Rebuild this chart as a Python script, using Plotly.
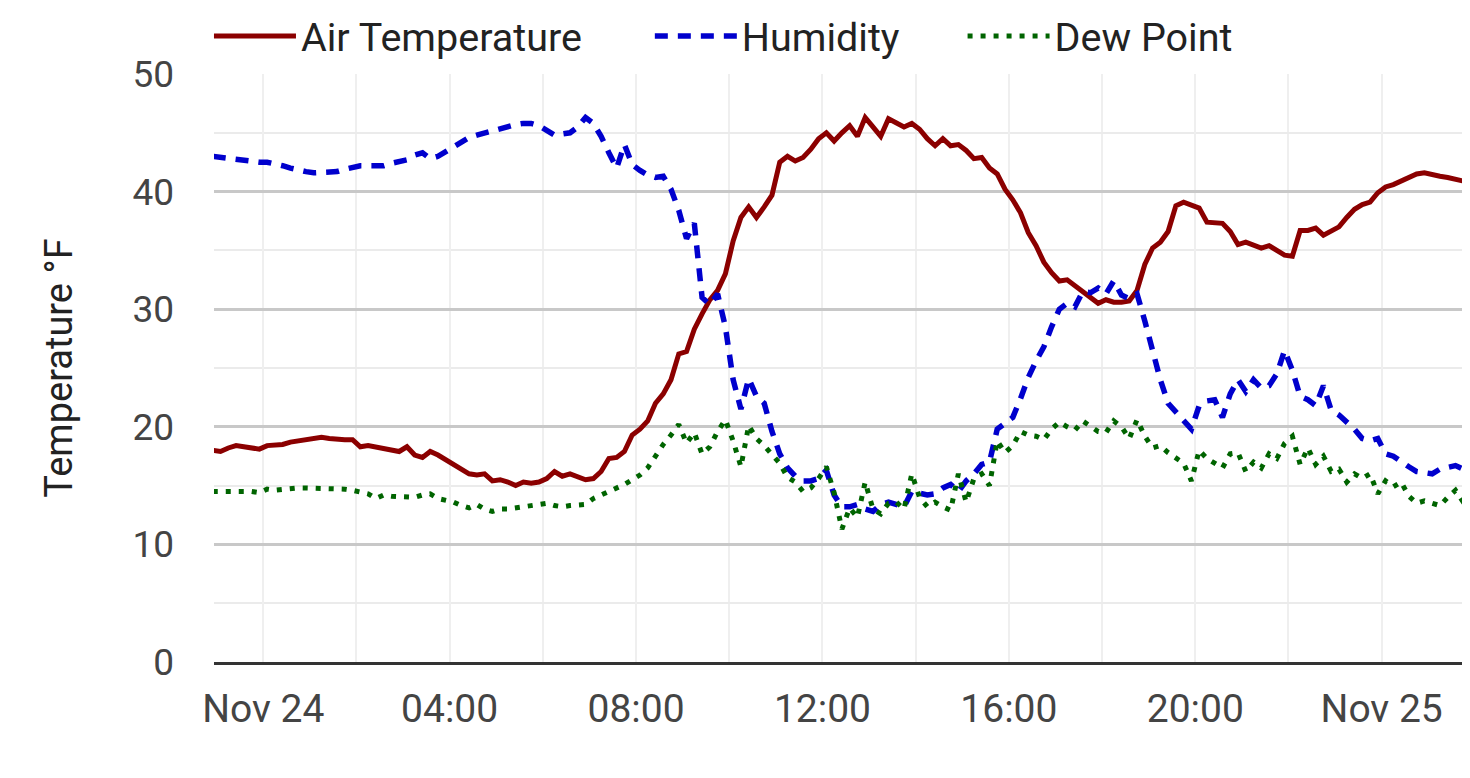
import pandas as pd
import plotly.graph_objects as go

# Lecturas cada 10 minutos desde Nov 23 22:55
air_temp = [
    18.0, 17.9, 18.2, 18.4, 18.3, 18.2, 18.1, 18.4, 18.4, 18.5,
    18.7, 18.8, 19.0, 19.0, 19.1, 19.0, 18.9, 18.9, 18.9, 18.3,
    18.4, 18.3, 18.1, 18.1, 17.9, 18.3, 17.6, 17.4, 17.9, 17.6,
    17.2, 16.8, 16.4, 16.0, 15.9, 16.0, 15.4, 15.5, 15.3, 15.0,
    15.3, 15.2, 15.3, 15.6, 16.2, 15.8, 16.0, 15.8, 15.5, 15.6,
    16.2, 17.3, 17.4, 17.9, 19.3, 19.8, 20.5, 22.0, 22.8, 24.0,
    26.2, 26.4, 28.3, 29.6, 30.8, 31.6, 33.0, 35.8, 37.8, 38.7,
    37.8, 38.7, 39.7, 42.5, 43.0, 42.6, 42.9, 43.6, 44.5, 45.0,
    44.3, 45.0, 45.6, 44.7, 46.3, 45.5, 44.7, 46.2, 45.9, 45.5,
    45.8, 45.3, 44.5, 43.9, 44.5, 43.9, 44.0, 43.5, 42.8, 42.9,
    42.0, 41.5, 40.2, 39.3, 38.2, 36.5, 35.4, 34.0, 33.1, 32.4,
    32.5, 32.0, 31.4, 30.9, 30.5, 30.8, 30.6, 30.6, 30.7, 31.6,
    33.8, 35.2, 35.7, 36.6, 38.8, 39.1, 38.8, 38.6, 37.4, 37.4,
    37.3, 36.6, 35.5, 35.7, 35.4, 35.2, 35.4, 35.0, 34.6, 34.5,
    36.7, 36.7, 36.9, 36.3, 36.6, 37.0, 37.8, 38.5, 38.9, 39.1,
    39.9, 40.4, 40.6, 40.9, 41.3, 41.5, 41.6, 41.4, 41.3, 41.2,
    41.0, 40.9, 40.9,
]

humidity = [
    43.0, 42.9, 42.8, 42.7, 42.7, 42.6, 42.5, 42.5, 42.4, 42.2,
    42.0, 41.8, 41.7, 41.6, 41.6, 41.7, 41.7, 41.9, 42.1, 42.2,
    42.2, 42.2, 42.2, 42.4, 42.5, 42.7, 43.1, 43.3, 42.8, 43.0,
    43.4, 43.8, 44.3, 44.6, 44.8, 45.0, 45.1, 45.3, 45.5, 45.7,
    45.8, 45.8, 45.6, 45.2, 44.8, 44.9, 45.0, 45.5, 46.3, 45.8,
    44.7, 43.3, 42.0, 44.0, 42.3, 41.8, 41.4, 41.2, 41.3, 40.2,
    38.4, 36.0, 37.3, 31.0, 30.4, 31.3, 28.5, 24.0, 21.5, 24.1,
    22.6, 22.0, 19.6, 17.7, 16.5, 15.8, 15.4, 15.4, 15.6, 16.3,
    14.2, 13.2, 13.2, 13.4, 13.0, 12.8, 13.4, 13.6, 13.4, 13.2,
    14.5, 14.3, 14.2, 14.3, 14.8, 15.1, 14.5, 15.4, 16.0, 16.8,
    17.0, 19.8, 20.3, 20.8, 22.4, 24.2, 25.6, 26.8, 28.5, 30.0,
    30.5, 30.2, 31.5, 31.4, 31.8, 31.3, 32.4, 31.2, 30.9, 31.3,
    29.0, 26.4, 24.0, 22.0, 21.3, 20.6, 19.8, 21.8, 22.2, 22.3,
    20.8, 22.8, 24.0, 23.0, 24.0, 23.3, 23.5, 24.5, 26.5, 24.8,
    22.6, 22.3, 21.8, 23.5, 21.4, 21.0, 20.4, 19.8, 19.0, 18.8,
    19.0, 17.7, 17.5, 17.0, 16.6, 16.2, 16.1, 16.0, 16.4, 16.6,
    16.7, 16.4, 16.5,
]

dew_point = [
    14.5, 14.5, 14.6, 14.5, 14.5, 14.5, 14.4, 14.7, 14.6, 14.7,
    14.7, 14.8, 14.8, 14.8, 14.7, 14.7, 14.7, 14.7, 14.6, 14.5,
    14.3, 13.9, 14.2, 14.1, 14.1, 14.0, 14.0, 14.2, 14.3, 13.9,
    13.8, 13.6, 13.3, 13.1, 13.4, 13.0, 12.8, 13.0, 13.0, 13.1,
    13.2, 13.2, 13.4, 13.5, 13.3, 13.2, 13.3, 13.4, 13.4, 13.9,
    14.2, 14.4, 14.7, 15.1, 15.5, 15.9, 16.5, 17.6, 18.5, 19.3,
    20.2, 18.6, 19.5, 17.7, 18.3, 19.6, 20.6, 18.8, 16.6, 20.1,
    19.0, 18.4, 17.6, 16.9, 15.7, 15.3, 14.5, 14.8, 15.6, 16.6,
    14.4, 11.3, 13.1, 12.3, 15.3, 13.0, 12.6, 13.5, 13.6, 13.0,
    16.0, 14.0, 13.2, 13.6, 13.2, 12.9, 16.0, 13.6, 15.6, 16.0,
    15.0, 18.8, 17.8, 18.4, 19.6, 19.3, 19.2, 18.9, 19.8, 20.4,
    20.0, 19.7, 20.5, 20.0, 19.6, 19.5, 20.5, 20.0, 19.0, 20.6,
    19.2, 18.2, 18.4, 17.8, 17.4, 16.9, 15.4, 18.0, 17.3, 16.9,
    16.5, 17.7, 17.8, 16.2, 17.0, 16.5, 17.7, 17.3, 18.6, 19.2,
    16.8, 18.2, 16.8, 17.5, 16.2, 16.4, 15.3, 16.0, 15.6, 16.0,
    14.3, 15.4, 14.9, 15.3, 14.1, 13.5, 13.7, 13.5, 13.3, 14.0,
    14.6, 13.6, 13.5,
]

tick_vals = ["2022-11-24 00:00", "2022-11-24 04:00", "2022-11-24 08:00",
             "2022-11-24 12:00", "2022-11-24 16:00", "2022-11-24 20:00",
             "2022-11-25 00:00"]
tick_text = ["Nov 24", "04:00", "08:00", "12:00", "16:00", "20:00", "Nov 25"]

times = pd.date_range("2022-11-23 22:55", periods=len(air_temp), freq="10min")

fig = go.Figure()
fig.add_trace(go.Scatter(x=times, y=air_temp, name="Air Temperature",
                         mode="lines", legend="legend",
                         line=dict(color="#8b0000", width=5)))
fig.add_trace(go.Scatter(x=times, y=humidity, name="Humidity",
                         mode="lines", legend="legend2",
                         line=dict(color="#0000cd", width=5.5, dash="13px,10px")))
fig.add_trace(go.Scatter(x=times, y=dew_point, name="Dew Point",
                         mode="lines", legend="legend3",
                         line=dict(color="#006400", width=5, dash="5px,8px")))

# la página tiene 8px de margen en el body
leg = dict(orientation="h", yanchor="middle", y=1.064, xanchor="left",
           font=dict(family="Roboto", size=39.5, color="#222222"),
           itemwidth=82, bgcolor="rgba(0,0,0,0)", borderwidth=0)

fig.update_layout(
    width=1462, height=770,
    margin=dict(l=206, r=0, t=66, b=116, autoexpand=False),
    paper_bgcolor="white", plot_bgcolor="white",
    font=dict(family="Roboto", color="#444444"),
    showlegend=True,
    legend=dict(leg, x=-0.004),
    legend2=dict(leg, x=0.347),
    legend3=dict(leg, x=0.596),
    xaxis=dict(
        range=["2022-11-23 22:56:36", "2022-11-25 01:53:42"],
        tickmode="array", tickvals=tick_vals, ticktext=tick_text,
        tickfont=dict(size=39, color="#444444"), ticks="",
        ticklabelstandoff=10,
        showgrid=True, gridcolor="#efefef", gridwidth=2,
        minor=dict(dtick=7200000, showgrid=True, gridcolor="#efefef", gridwidth=2),
        showline=True, linecolor="#333333", linewidth=2.5,
        zeroline=False,
    ),
    yaxis=dict(
        range=[0, 50], dtick=10,
        tickfont=dict(size=37, color="#444444"), ticks="",
        ticklabelstandoff=39,
        showgrid=True, gridcolor="#c8c8c8", gridwidth=2.5,
        minor=dict(dtick=5, showgrid=True, gridcolor="#ebebeb", gridwidth=2),
        zeroline=False, showline=False,
        title=dict(text="Temperature °F", standoff=48,
                   font=dict(family="Roboto", size=38, color="#222222")),
    ),
)

fig.write_html("out.html")
